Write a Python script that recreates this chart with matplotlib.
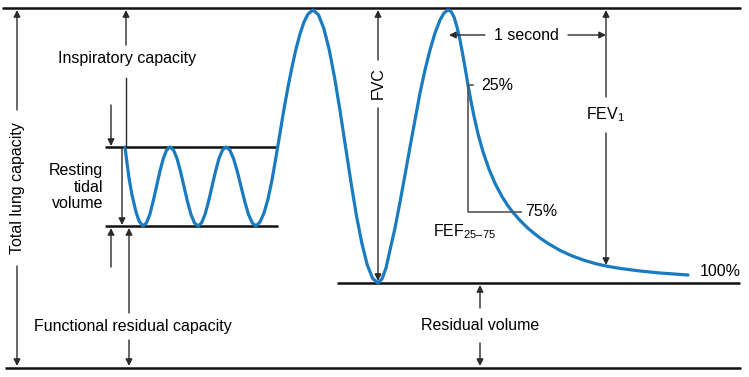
import matplotlib
matplotlib.use("Agg")
import matplotlib.pyplot as plt

plt.rcParams['font.family'] = ['Liberation Sans', 'DejaVu Sans']
plt.rcParams['mathtext.fontset'] = 'custom'
plt.rcParams['mathtext.rm'] = 'Liberation Sans'
plt.rcParams['mathtext.it'] = 'Liberation Sans:italic'

# spirometer trace (pixel units, y grows downward)
tidal_x = [125, 127, 129, 132, 136, 139, 143,
           146.4, 149.8, 153.1, 156.5, 159.9, 163.3, 166.6, 170,
           173.5, 177, 180.5, 184, 187.5, 191, 194.5, 198,
           201.5, 205, 208.5, 212, 215.5, 219, 222.5, 226,
           229.8, 233.5, 237.3, 241, 244.8, 248.5, 252.3, 256]
tidal_y = [147, 163, 178, 195, 212, 221, 226,
           223, 214.5, 201.6, 186.5, 171.4, 158.5, 150, 147,
           150, 158.5, 171.4, 186.5, 201.6, 214.5, 223, 226,
           223, 214.5, 201.6, 186.5, 171.4, 158.5, 150, 147,
           150, 158.5, 171.4, 186.5, 201.6, 214.5, 223, 226]

vital_x = [260, 264, 268, 272, 276, 280, 284, 288, 292, 296, 300, 304, 308, 313,
           318.4, 323.8, 329.3, 334.7, 340.1, 345.5, 350.9, 356.3, 361.8, 367.2, 372.6, 378,
           382, 386, 390, 395, 400, 405, 410, 415, 420, 425, 430, 435, 440, 444, 448]
vital_y = [222, 213, 199, 180, 157, 133, 109, 87, 67, 49, 34, 22, 14, 10,
           14.7, 28.3, 50, 78.3, 111.2, 146.5, 181.8, 214.8, 243, 264.7, 278.4, 283,
           279, 268, 250, 228, 202, 175, 147, 120, 93, 70, 50, 33, 20, 13, 10]

forced_x = [451, 454, 457, 460, 463, 466, 468, 471, 474, 478, 483, 489, 495, 502, 508,
            513, 520, 527, 533, 540, 548, 560, 572, 585, 597, 607, 620, 640, 660, 688]
forced_y = [11.5, 17, 27, 40, 56, 73, 85, 101.2, 116.2, 133.8, 151.8, 169.2, 183.3, 196.6, 205.9,
            212.4, 220.4, 227.4, 232.5, 238, 243.4, 250.4, 255.9, 260.6, 264, 266.2, 268.4, 271, 273, 275]

curve_x = tidal_x + vital_x + forced_x
curve_y = tidal_y + vital_y + forced_y

blue = '#1a7bc0'
ink = '#2a2a2a'

fig = plt.figure(figsize=(7.49, 3.77), dpi=100)
ax = fig.add_axes([0, 0, 1, 1])
ax.set_xlim(0, 749)
ax.set_ylim(377, 0)
ax.axis('off')

# level lines
for x0, x1, y in [(2, 741, 8), (5, 741, 368), (105, 277, 147), (105, 278, 226), (337, 740, 283)]:
    ax.plot([x0, x1], [y, y], color='#111111', lw=1.8, solid_capstyle='butt')

ax.plot(curve_x, curve_y, color=blue, lw=2.3, solid_joinstyle='round', solid_capstyle='round')


def arrow(tail, tip):
    ax.annotate('', xy=tip, xytext=tail,
                arrowprops=dict(arrowstyle='-|>', color=ink, lw=1.0,
                                mutation_scale=10, shrinkA=0, shrinkB=0))


# total lung capacity
arrow((17, 110), (17, 10))
arrow((17, 266), (17, 366))
# inspiratory capacity
arrow((126, 45), (126, 10))
ax.plot([126, 126], [78, 147], color=ink, lw=1.0)
# resting tidal volume
arrow((111, 105), (111, 146))
arrow((122, 148), (122, 225))
arrow((111, 267), (111, 228))
# functional residual capacity
arrow((129, 313), (129, 228))
arrow((129, 340), (129, 366))
# FVC
arrow((378, 60), (378, 10))
arrow((378, 108), (378, 281))
# 1 second
arrow((485, 35), (449, 35))
arrow((568, 35), (606, 35))
# FEV1
arrow((606, 97), (606, 10))
arrow((606, 133), (606, 265))
# residual volume
arrow((480, 308), (480, 285))
arrow((480, 343), (480, 366))

# FEF 25-75 bracket
ax.plot([473, 468, 468, 521], [85, 85, 212, 212], color='#555555', lw=1.2)

fs = 11.5
ax.text(18, 188, 'Total lung capacity', rotation=90, ha='center', va='center', fontsize=fs)
ax.text(127, 58, 'Inspiratory capacity', ha='center', va='center', fontsize=fs)
ax.text(103, 187, 'Resting\ntidal\nvolume', ha='right', va='center', fontsize=fs,
        multialignment='right', linespacing=1.15)
ax.text(133, 326, 'Functional residual capacity', ha='center', va='center', fontsize=fs)
ax.text(480, 326, 'Residual volume', ha='center', va='center', fontsize=fs)
ax.text(378, 83, 'FVC', rotation=90, ha='center', va='center', fontsize=fs)
ax.text(526, 35, '1 second', ha='center', va='center', fontsize=fs)
ax.text(606, 115, r'FEV$_{\mathrm{1}}$', ha='center', va='center', fontsize=fs)
ax.text(481, 85, '25%', ha='left', va='center', fontsize=fs)
ax.text(525, 212, '75%', ha='left', va='center', fontsize=fs)
ax.text(433, 232, r'FEF$_{\mathrm{25–75}}$', ha='left', va='center', fontsize=fs)
ax.text(700, 272, '100%', ha='left', va='center', fontsize=fs)

fig.savefig('out.png', dpi=100, facecolor='white')
